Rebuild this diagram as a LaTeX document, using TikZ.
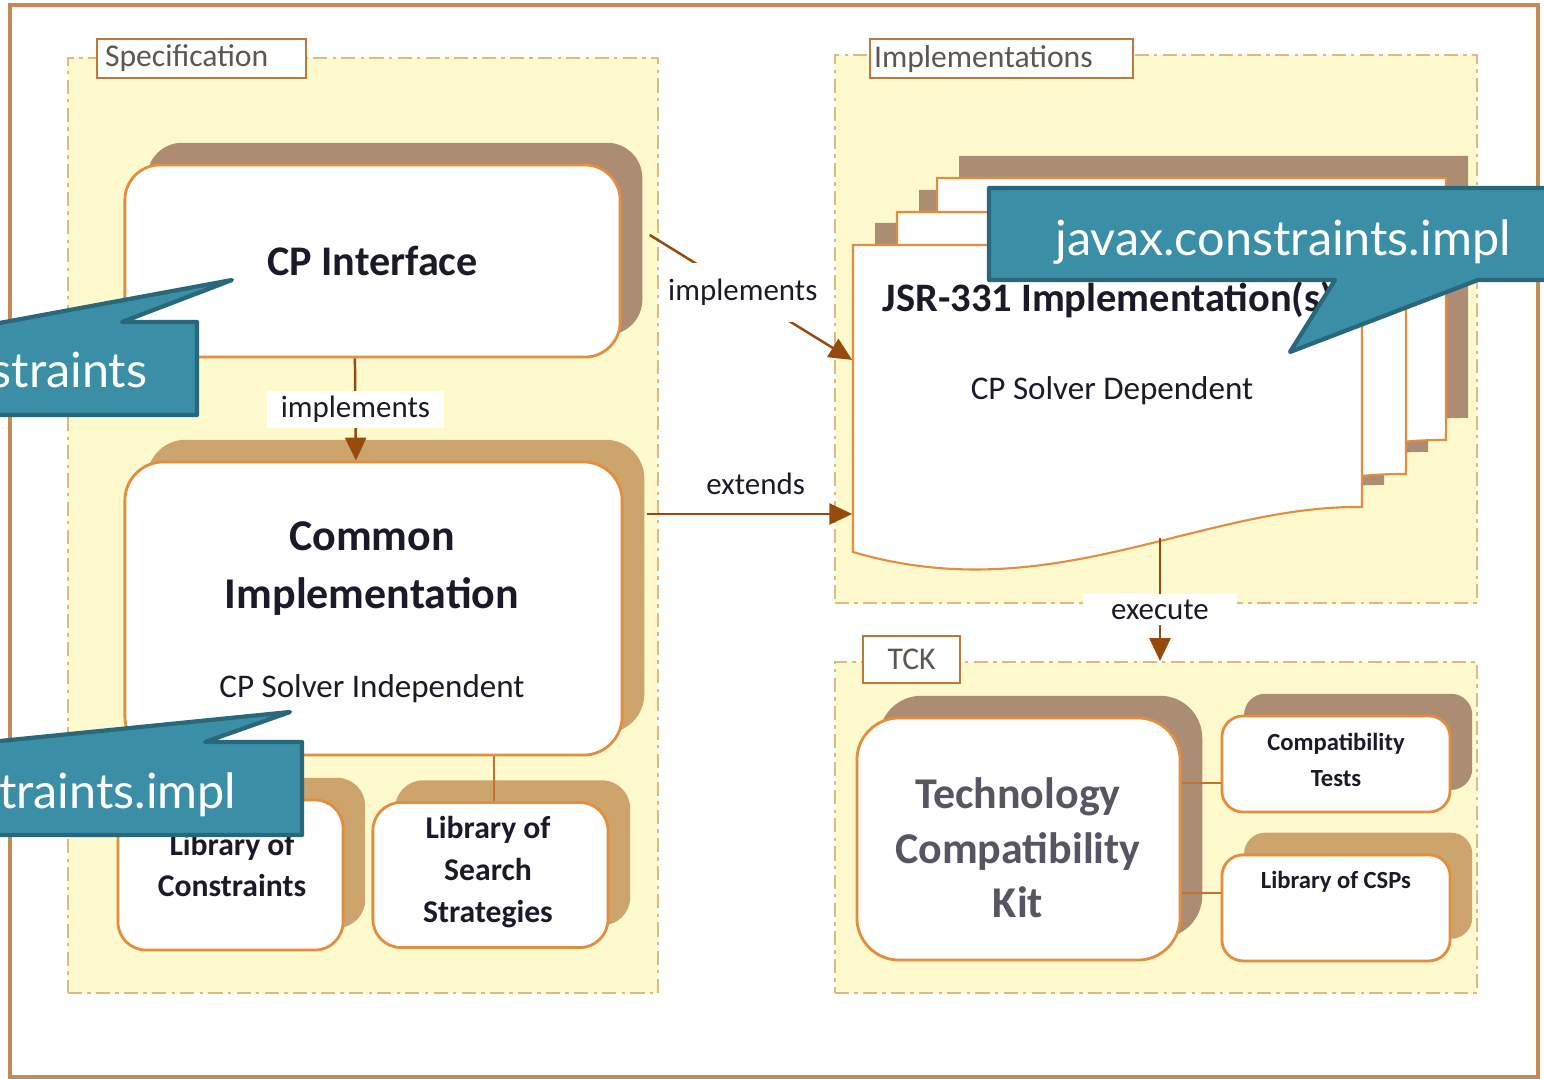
\documentclass[tikz,border=0pt]{standalone}
\usepackage{fontspec}
\setmainfont{Carlito}
\newfontfamily\calloutfont{Lato}
\usetikzlibrary{positioning, arrows.meta, shadows}

\definecolor{frameline}{RGB}{196,140,84}
\definecolor{groupfill}{RGB}{255,249,206}
\definecolor{groupline}{RGB}{220,186,128}
\definecolor{tagline}{RGB}{192,120,56}
\definecolor{tagtext}{RGB}{96,86,80}
\definecolor{boxline}{RGB}{226,142,62}
\definecolor{taupe}{RGB}{172,140,114}
\definecolor{tanbrown}{RGB}{204,164,108}
\definecolor{ink}{RGB}{28,26,40}
\definecolor{techink}{RGB}{88,84,98}
\definecolor{arrowclr}{RGB}{150,74,14}
\definecolor{linkclr}{RGB}{196,112,48}
\definecolor{calloutfill}{RGB}{58,143,166}
\definecolor{calloutline}{RGB}{40,104,122}

\tikzset{
  doc shadow/.pic={
    \fill[taupe] (22,-22) -- (531,-22) -- (531,240)
      .. controls (369,238) and (219,343) .. (22,285) -- cycle;
  },
  doc page/.pic={
    \filldraw[sheet] (0,0) -- (509,0) -- (509,262)
      .. controls (347,260) and (197,365) .. (0,307) -- cycle;
  }
}

\begin{document}
\begin{tikzpicture}[x=0.01cm, y=-0.01cm,
    grp/.style={draw=groupline, fill=groupfill, line width=0.5pt,
      dash pattern=on 4pt off 1.5pt on 1pt off 1.5pt},
    tag/.style={draw=tagline, fill=white, line width=0.6pt, text=tagtext,
      font=\fontsize{9}{10}\selectfont, minimum height=0.39cm, inner ysep=0pt,
      anchor=north west},
    box/.style={draw=boxline, fill=white, line width=0.8pt, rounded corners=#1},
    box/.default=9pt,
    taupe shadow/.style={drop shadow={shadow xshift=6.3pt, shadow yshift=6.3pt,
      fill=taupe, opacity=1}},
    tan shadow/.style={drop shadow={shadow xshift=6.3pt, shadow yshift=6.3pt,
      fill=tanbrown, opacity=1}},
    sheet/.style={fill=white, draw=boxline, line width=0.6pt},
    title/.style={font=\bfseries\fontsize{12}{16}\selectfont, text=ink, align=center},
    minor/.style={font=\bfseries\fontsize{9}{11.5}\selectfont, text=ink, align=center},
    smallbold/.style={font=\bfseries\fontsize{7}{10.2}\selectfont, text=ink, align=center},
    sub/.style={font=\fontsize{9.4}{11}\selectfont, text=ink},
    lbl/.style={font=\fontsize{8.8}{10}\selectfont, text=ink, inner sep=1.5pt},
    flow/.style={draw=arrowclr, line width=0.7pt, -{Triangle[length=6.5pt,width=6pt]}},
    joint/.style={draw=linkclr, line width=0.8pt},
    callout/.style={fill=calloutfill, draw=calloutline, line width=1.2pt, line join=round},
    callout text/.style={text=white, font=\calloutfont\fontsize{13.8}{15}\selectfont, inner sep=0pt}
  ]
  \useasboundingbox (0,0) rectangle (1544,1079);
  \clip (0,0) rectangle (1544,1079);

  % frame and groups
  \draw[frameline, line width=0.9pt] (10,5) rectangle (1538,1077);
  \node[grp, minimum width=5.90cm, minimum height=9.35cm] (spec) at (363,525.5) {};
  \node[grp, minimum width=6.42cm, minimum height=5.48cm] (impls) at (1156,329) {};
  \node[grp, minimum width=6.42cm, minimum height=3.31cm] (tck) at (1156,827.5) {};
  \node[tag, text width=1.93cm, inner xsep=0.08cm] (spectag) at (96,38) {Specification};
  \node[tag, text width=2.55cm, inner xsep=0.04cm] (implstag) at (869,38) {Implementations};
  \node[tag, minimum width=0.97cm, minimum height=0.47cm] (tcktag) at (862,635) {TCK};

  % specification
  \node[box=10pt, taupe shadow, minimum width=4.95cm, minimum height=1.92cm, title] (cpi) at (372.5,261) {CP Interface};
  \node[box=11pt, tan shadow, minimum width=4.97cm, minimum height=2.93cm] (cim) at (373.5,608.5) {};
  \node[title, font=\bfseries\fontsize{12.5}{16.5}\selectfont] (cimtitle) at (372,569) {Common\\Implementation};
  \node[sub] (cimsub) at (372,689) {CP Solver Independent};
  \node[box=8pt, tan shadow, minimum width=2.25cm, minimum height=1.50cm] (lcon) at (230.5,875) {};
  \node[box=8pt, tan shadow, minimum width=2.35cm, minimum height=1.45cm, right=0.27cm of lcon] (lss) {};
  \node[minor] (lcontext) at (232,865) {Library of\\Constraints};
  \node[minor, font=\bfseries\fontsize{9}{12}\selectfont] (lsstext) at (488,872) {Library of\\Search\\Strategies};

  % implementations
  \pic at (937,178) {doc shadow};
  \pic at (897,212) {doc shadow};
  \pic at (853,245) {doc shadow};
  \pic at (937,178) {doc page};
  \pic at (897,212) {doc page};
  \pic at (853,245) {doc page};
  \node[minimum width=5.09cm, minimum height=3.1cm] (jsr) at (1107.5,400) {};
  \node[title, font=\bfseries\fontsize{11.5}{14}\selectfont] (jsrtitle) at (1108,300) {JSR-331 Implementation(s)};
  \node[sub] (jsrsub) at (1112,391) {CP Solver Dependent};

  % tck
  \node[box=12pt, taupe shadow, minimum width=3.23cm, minimum height=2.42cm] (tech) at (1018.5,839) {};
  \node[title, text=techink, font=\bfseries\fontsize{12.5}{15.5}\selectfont] (techtext) at (1018,848) {Technology\\Compatibility\\Kit};
  \node[box=6pt, taupe shadow, minimum width=2.28cm, minimum height=0.96cm] (ctst) at (1336,764) {};
  \node[box=6pt, tan shadow, minimum width=2.28cm, minimum height=1.06cm, below=0.40cm of ctst] (lcsp) {};
  \node[smallbold] (ctsttext) at (1336,760) {Compatibility\\Tests};
  \node[smallbold] (lcsptext) at (1336,882) {Library of CSPs};

  % connectors
  \draw[flow] ([xshift=-5pt]cpi.south) -- ([xshift=-5pt]cim.north)
    node[lbl, midway, fill=white, inner xsep=4pt] (impl1) {implements};
  \draw[flow] ([xshift=8pt,yshift=7.4pt]cpi.east) -- ([yshift=11.4pt]jsr.west)
    node[lbl, pos=0.46, fill=white, inner ysep=4.5pt] (impl2) {implements};
  \coordinate (ext) at (647,514);
  \draw[flow] (ext) -- (ext -| jsr.west) node[lbl, above=3.5pt, pos=0.53] (extl) {extends};
  \coordinate (exe) at (1160,538);
  \draw[flow] (exe) -- (exe |- tck.north)
    node[lbl, pos=0.58, fill=white, inner xsep=8pt] (exel) {execute};
  \draw[joint] (cim.south -| 494,0) -- (lss.north -| 494,0);
  \draw[joint] (tech.east |- 0,783) -- (ctst.west |- 0,783);
  \draw[joint] (tech.east |- 0,893) -- (lcsp.west |- 0,893);

  % callouts
  \filldraw[callout] (-60,415) -- (-60,334) -- (232,280) -- (122,322)
    -- (197,322) -- (197,415) -- cycle;
  \node[callout text, anchor=base east] (cjc) at (148,388) {javax.constraints};
  \filldraw[callout] (-60,835) -- (-60,747) -- (290,712) -- (205,742)
    -- (302,742) -- (302,835) -- cycle;
  \node[callout text, anchor=base east] (cjci) at (237,808) {javax.constraints.impl};
  \filldraw[callout] (989,188) -- (1600,188) -- (1600,280) -- (1478,280)
    -- (1290,352) -- (1335,280) -- (989,280) -- cycle;
  \node[callout text, anchor=base] (cjcimpl) at (1283,256) {javax.constraints.impl};
\end{tikzpicture}
\end{document}
